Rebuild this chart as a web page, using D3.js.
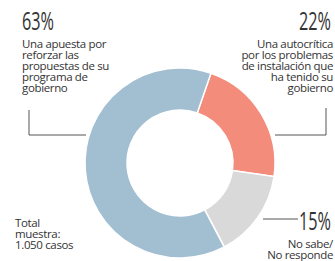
<!DOCTYPE html>
<html>
<head>
<meta charset="utf-8">
<script src="https://cdn.jsdelivr.net/npm/d3@7"></script>
<style>
  body { margin: 0; background: #fff; }
  text { font-family: "Open Sans", Roboto, sans-serif; fill: #333; }
</style>
</head>
<body>
<svg id="chart" width="335" height="261"></svg>
<script>
// slices in clockwise order starting just right of the top
const categories = ["Una autocrítica", "No sabe/No responde", "Una apuesta"];
const values = [22, 15, 63];
const colors = ["#f38c7b", "#d9d9d9", "#a2bfd2"];
const pctLabels = ["22%", "15%", "63%"];

const svg = d3.select('#chart');
const cx = 180, cy = 163;
const outerR = 95, innerR = 53;

// pie starts ~19deg clockwise from 12 o'clock
const start = 19 * Math.PI / 180;
const pie = d3.pie().sort(null).value(d => d).startAngle(start).endAngle(start + 2 * Math.PI);
const arc = d3.arc().innerRadius(innerR).outerRadius(outerR);

svg.append('g')
  .attr('transform', `translate(${cx},${cy})`)
  .selectAll('path')
  .data(pie(values))
  .join('path')
  .attr('d', arc)
  .attr('fill', (d, i) => colors[i])
  .attr('stroke', '#fff')
  .attr('stroke-width', 1.5);

// leader lines
const lines = [
  [[29, 110], [29, 135], [86, 135]],
  [[326, 108], [326, 135], [275, 135]],
  [[263, 219], [298, 219]]
];
svg.selectAll('polyline')
  .data(lines)
  .join('polyline')
  .attr('points', d => d.map(p => p.join(',')).join(' '))
  .attr('fill', 'none')
  .attr('stroke', '#555')
  .attr('stroke-width', 1);

// big percentages (condensed look via textLength)
function bigNum(txt, x, y, anchor) {
  svg.append('text')
    .attr('x', x).attr('y', y)
    .attr('text-anchor', anchor)
    .attr('font-family', 'Roboto, sans-serif')
    .attr('font-size', 25)
    .attr('font-weight', 400)
    .attr('textLength', 32)
    .attr('lengthAdjust', 'spacingAndGlyphs')
    .text(txt);
}
bigNum(pctLabels[2], 22, 30, 'start');
bigNum(pctLabels[0], 331, 30, 'end');
bigNum(pctLabels[1], 331, 230, 'end');

// description blocks
function block(linesTxt, x, y, anchor) {
  const t = svg.append('text')
    .attr('text-anchor', anchor)
    .attr('font-size', 11.5)
    .attr('letter-spacing', -0.35);
  linesTxt.forEach((l, i) => {
    t.append('tspan').attr('x', x).attr('y', y + i * 11.1).text(l);
  });
}
block(["Una apuesta por", "reforzar las", "propuestas de su", "programa de", "gobierno"], 22, 48, 'start');
block(["Una autocrítica", "por los problemas", "de instalación que", "ha tenido su", "gobierno"], 333, 48, 'end');
block(["No sabe/", "No responde"], 333, 248, 'end');
block(["Total", "muestra:", "1.050 casos"], 15, 227, 'start');
</script>
</body>
</html>
